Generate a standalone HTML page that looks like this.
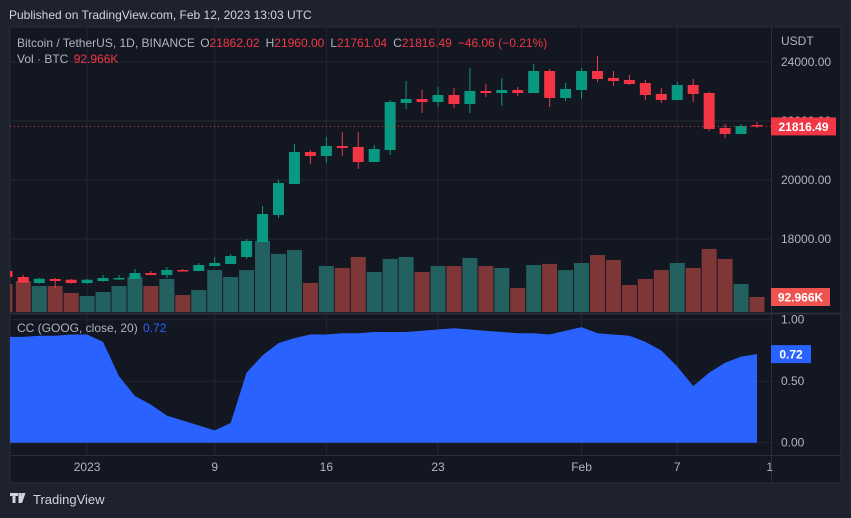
<!DOCTYPE html>
<html><head><meta charset="utf-8"><style>
body{margin:0;background:#1e222d;width:851px;height:518px;overflow:hidden;font-family:"Liberation Sans",sans-serif}
svg{display:block}
</style></head><body>
<svg id="c" width="851" height="518" xmlns="http://www.w3.org/2000/svg">
<rect x="0" y="0" width="851" height="518" fill="#1e222d"/>
<text x="9" y="19" fill="#d1d4dc" font-size="12">Published on TradingView.com, Feb 12, 2023 13:03 UTC</text>
<rect x="10" y="27" width="831" height="456" fill="#131722" stroke="#2a2e39"/>
<g id="grid"></g>
<g id="vol"></g>
<g id="candles"></g>
<g id="ind"></g>
<line x1="10" y1="313.5" x2="841" y2="313.5" stroke="#2a2e39" stroke-width="2"/>
<line x1="771.5" y1="27" x2="771.5" y2="483" stroke="#2a2e39"/>
<line x1="10" y1="455.5" x2="841" y2="455.5" stroke="#2a2e39"/>
<g id="axes"></g>
<text x="17" y="47" font-size="12" fill="#b2b5be">Bitcoin / TetherUS, 1D, BINANCE <tspan dx="2">O</tspan><tspan fill="#f23645">21862.02</tspan><tspan dx="6">H</tspan><tspan fill="#f23645">21960.00</tspan><tspan dx="6">L</tspan><tspan fill="#f23645">21761.04</tspan><tspan dx="6">C</tspan><tspan fill="#f23645">21816.49</tspan><tspan dx="6" fill="#f23645">−46.06 (−0.21%)</tspan></text>
<text x="17" y="63" font-size="12" fill="#b2b5be">Vol · BTC <tspan dx="2" fill="#f23645">92.966K</tspan></text>
<text x="17" y="332" font-size="12" fill="#b2b5be">CC (GOOG, close, 20) <tspan dx="2" fill="#2962ff">0.72</tspan></text>
<text x="781" y="45" font-size="12" fill="#b2b5be">USDT</text>
<g><path d="M10 493h8v3h-2.5v7h-3v-7H10z M18.5 493h3l-1 10h-2z M22 493h3.5l-3.5 10h-2.5z" fill="#d1d4dc"/><text x="33" y="504" font-size="13" fill="#d1d4dc">TradingView</text></g>
</svg>
<script>
const opens=[16712,16507,16644,16620,16508,16576,16644,16644,16847,16780,16949,16915,17085,17153,17390,17898,18813,19864,20949,20814,21152,21119,20610,21017,22610,22746,22644,22881,22576,23017,22949,23051,22949,23695,22780,23051,23695,23458,23390,23288,22915,22712,23220,22949,21763,21559,21862.02];
const highs=[16780,16678,16678,16644,16644,16780,16780,16983,16915,17051,16983,17186,17390,17492,18000,19119,20000,21220,21017,21458,21627,21627,21186,22712,23356,23051,23153,23119,23797,23254,23458,23153,23932,23763,23288,23797,24203,23695,23559,23390,23119,23322,23424,22983,21898,21898,21960];
const lows=[16498,16485,16339,16485,16485,16553,16610,16644,16780,16678,16915,16915,17085,17153,17322,17898,18712,19864,20542,20576,20814,20373,20610,20847,22407,22271,22474,22441,22271,22814,22508,22847,22949,22474,22678,22746,23322,23186,23220,22712,22610,22712,22644,21661,21424,21559,21761.04];
const closes=[16518,16654,16576,16508,16620,16678,16678,16847,16780,16949,16915,17119,17186,17424,17932,18847,19898,20949,20814,21152,21085,20610,21051,22644,22746,22644,22881,22576,23017,22949,23051,22949,23695,22780,23085,23695,23424,23356,23254,22881,22712,23220,22915,21729,21559,21830,21816.49];
const volumes=[192,161,161,118,99,124,161,217,161,205,105,136,260,217,260,440,360,384,180,285,273,341,248,329,341,248,285,285,335,285,273,149,291,298,260,304,353,322,167,205,260,304,273,391,329,174,92.966];
const volUp=[0,1,0,0,1,1,1,1,0,1,0,1,1,1,1,1,1,1,0,1,0,0,1,1,1,0,1,0,1,0,1,0,1,0,1,1,0,0,0,0,0,1,0,0,0,1,0];
const ccValues=[0.86,0.86,0.87,0.87,0.88,0.88,0.82,0.54,0.38,0.31,0.22,0.18,0.14,0.10,0.16,0.57,0.71,0.81,0.85,0.88,0.88,0.89,0.89,0.90,0.90,0.90,0.91,0.92,0.93,0.92,0.91,0.90,0.89,0.89,0.88,0.91,0.94,0.89,0.88,0.87,0.82,0.75,0.62,0.46,0.57,0.65,0.70,0.72];
const priceTicks=[24000,22000,20000,18000];
const ccTicks=[1.00,0.50,0.00];
const timeLabels=["2023","9","16","23","Feb","7","1"];
const timeIdx=[4,12,19,26,35,41,46.8];

const NS="http://www.w3.org/2000/svg";
function mk(tag,attrs,parent){const e=document.createElementNS(NS,tag);for(const k in attrs)e.setAttribute(k,attrs[k]);parent.appendChild(e);return e;}
const xOf=i=>23.3+15.95*i;
const yP=p=>180-(p-20000)*0.0295;
const yV=v=>312-v/6.2;
const yC=v=>442.7-v*123;
const G=document.getElementById('grid'),V=document.getElementById('vol'),C=document.getElementById('candles'),I=document.getElementById('ind'),A=document.getElementById('axes');

priceTicks.forEach(p=>{
 const l=mk('line',{x1:10,x2:771,y1:yP(p),y2:yP(p),stroke:'#242733'},G);
 
 
 const t=mk('text',{x:781,y:yP(p)+4,'font-size':12,fill:'#b2b5be'},A);t.textContent=p.toFixed(2);
 
 
});
ccTicks.forEach(v=>{
 const l=mk('line',{x1:10,x2:771,y1:yC(v),y2:yC(v),stroke:'#242733'},G);
 
 
 const t=mk('text',{x:781,y:yC(v)+4,'font-size':12,fill:'#b2b5be'},A);t.textContent=v.toFixed(2);
 
 
});
timeLabels.forEach((s,k)=>{
 const xx=xOf(timeIdx[k]);
 if(k<timeLabels.length-1){
  const l=mk('line',{x1:xx,x2:xx,y1:27,y2:455,stroke:'#242733'},G);
  
  
 }
 const t=mk('text',{x:xx,y:471,'font-size':12,fill:'#b2b5be','text-anchor':'middle'},A);t.textContent=s;
 
 
});

volumes.forEach((v,i)=>{
 const x=xOf(i);
 const r=mk('rect',{x:x-7.5,y:yV(v),width:15,height:312-yV(v),fill:volUp[i]?'#22615f':'#7f3637'},V);
 
 
});
mk('rect',{x:10,y:284,width:2.5,height:28,fill:'#7f3637'},V);

opens.forEach((o,i)=>{
 const c=closes[i],up=c>=o,col=up?'#089981':'#f23645',x=xOf(i);
 const g=mk('g',{},C);
 
 
 mk('line',{x1:x,x2:x,y1:yP(highs[i]),y2:yP(lows[i]),stroke:col,'stroke-width':1},g);
 const top=yP(Math.max(o,c)),h=Math.max(1.5,Math.abs(yP(o)-yP(c)));
 mk('rect',{x:x-5.5,y:top,width:11,height:h,fill:col},g);
});
mk('rect',{x:10,y:271,width:2.5,height:6,fill:'#f23645'},C);

const last=closes[closes.length-1];
const dl=mk('line',{x1:10,x2:771,y1:yP(last),y2:yP(last),stroke:'#f23645','stroke-dasharray':'1 3'},C);



let d='M10 '+yC(0)+' L10 '+yC(ccValues[0]);
ccValues.forEach((v,k)=>{const x=Math.max(10,xOf(k-1));d+=' L'+x+' '+yC(v);});
d+=' L'+xOf(ccValues.length-2)+' '+yC(0)+' Z';
const area=mk('path',{d:d,fill:'#2962ff'},I);



function badge(y,w,col,txt,name){
 const g=mk('g',{},A);
 
 
 mk('rect',{x:771,y:y-9,width:w,height:18,fill:col},g);
 const t=mk('text',{x:771+w/2,y:y+4.5,'font-size':12,'font-weight':'bold',fill:'#fff','text-anchor':'middle'},g);t.textContent=txt;
}
badge(yP(last),65,'#f23645',last.toFixed(2),'last-price-badge');
badge(297,59,'#ef5350',volumes[volumes.length-1].toFixed(3)+'K','volume-badge');
badge(yC(ccValues[ccValues.length-1]),40,'#2962ff',ccValues[ccValues.length-1].toFixed(2),'cc-value-badge');
</script>
</body></html>
